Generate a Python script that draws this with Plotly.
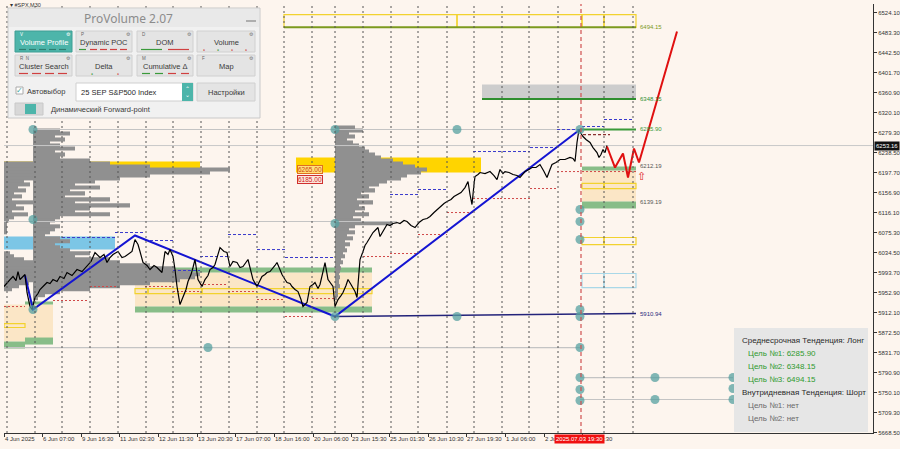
import plotly.graph_objects as go

BG = "#FDF5EE"
NARROW = "Liberation Sans, Arial"
SANS = "Liberation Sans, Arial"
UI = "Noto Sans, Open Sans, sans-serif"

# ---------------- axes ----------------
y_tick_vals = [6524.10, 6483.30, 6442.50, 6401.70, 6360.90, 6320.10, 6279.30, 6238.50,
               6197.70, 6156.90, 6116.10, 6075.30, 6034.50, 5993.70, 5952.90, 5912.10,
               5872.50, 5831.70, 5790.90, 5750.10, 5709.30, 5668.50]
x_tick_pos = [4, 42, 81, 119, 158, 197, 235, 274, 313, 351, 389, 428, 466, 505, 544, 582]
x_tick_text = ["4 Jun 2025", "6 Jun 07:00", "9 Jun 16:30", "11 Jun 02:30", "12 Jun 11:30",
               "13 Jun 20:30", "17 Jun 07:00", "18 Jun 16:00", "20 Jun 06:00", "23 Jun 15:30",
               "25 Jun 01:30", "26 Jun 10:30", "27 Jun 19:30", "1 Jul 06:00", "2 Jul 15:30",
               "3 Jul 01:30"]
session_sep = [7, 35, 62, 90, 118, 146, 173, 201, 229, 257, 284, 312, 335, 363, 391, 418,
               447, 474, 502, 529, 558, 604, 633]
current_bar = 581
current_time_label = "2025.07.03 19:30"

# ---------------- price (M30 close path) ----------------
price_x = [4, 7, 10, 13, 16, 18, 20, 22, 25, 27, 30, 32, 35, 38, 40, 44, 47, 50, 53, 57, 60, 64, 67,
           72, 77, 82, 87, 91, 95, 100, 104, 107, 110, 113, 118, 122, 125, 129, 132, 135, 138, 140,
           143, 147, 150, 154, 157, 160, 162, 165, 168, 170, 173, 175, 177, 180, 183, 186, 188, 191,
           193, 195, 198, 200, 202, 205, 208, 210, 213, 215, 218, 220, 224, 227, 230, 233, 237, 240,
           243, 246, 248, 251, 253, 257, 260, 262, 265, 267, 270, 272, 275, 277, 280, 282, 285, 287,
           290, 292, 295, 298, 301, 303, 307, 310, 313, 315, 318, 320, 323, 325, 328, 331, 333, 335,
           338, 341, 343, 346, 348, 351, 353, 355, 357, 360, 363, 365, 367, 370, 373, 376, 378, 380,
           383, 387, 390, 393, 397, 400, 404, 407, 411, 415, 419, 423, 427, 430, 434, 437, 441, 444,
           447, 451, 454, 457, 461, 465, 468, 470, 472, 474, 475, 478, 480, 485, 490, 494, 497, 500,
           503, 505, 509, 513, 517, 520, 523, 525, 529, 532, 536, 540, 544, 547, 550, 552, 556, 560,
           565, 570, 573, 575, 577, 579, 581, 583, 586, 590, 593, 597, 599, 601, 603, 605, 607]
price_y = [5966.0, 5974.1, 5980.2, 5986.4, 5978.2, 5996.5, 5980.2, 5984.3, 5990.4, 5953.8, 5925.2,
           5919.1, 5943.6, 5951.7, 5959.9, 5968.0, 5974.1, 5972.1, 5980.2, 5976.2, 5986.4, 5982.3,
           5994.5, 5988.4, 6000.6, 5996.5, 6006.7, 6016.9, 6035.2, 6025.1, 6031.2, 6014.9, 6025.1,
           6031.2, 6037.3, 6025.1, 6027.1, 6033.2, 6037.3, 6061.7, 6051.5, 6037.3, 6014.9, 6008.8,
           6000.6, 6008.8, 6004.7, 5998.6, 5994.5, 6037.3, 6031.2, 6041.3, 6027.1, 6000.6, 5966.0,
           5929.3, 5945.6, 5959.9, 5976.2, 5990.4, 6004.7, 6021.0, 5980.2, 5972.1, 5966.0, 5980.2,
           5988.4, 6000.6, 6004.7, 6010.8, 6029.1, 6045.4, 6037.3, 6035.2, 6006.7, 6016.9, 6014.9,
           6004.7, 6006.7, 6016.9, 6021.0, 5996.5, 5980.2, 5966.0, 5978.2, 5986.4, 5990.4, 5994.5,
           5996.5, 6000.6, 6008.8, 6014.9, 6000.6, 5990.4, 5980.2, 5974.1, 5972.1, 5966.0, 5959.9,
           5955.8, 5939.5, 5925.2, 5933.4, 5966.0, 5970.1, 5974.1, 5961.9, 5970.1, 5996.5, 6014.9,
           5980.2, 5970.1, 5966.0, 5925.2, 5939.5, 5947.6, 5953.8, 5968.0, 5980.2, 5970.1, 5963.9,
           5955.8, 5943.6, 6021.0, 6037.3, 6049.5, 6055.6, 6065.8, 6076.0, 6082.1, 6086.2, 6067.8,
           6078.0, 6092.3, 6090.2, 6094.3, 6096.3, 6094.3, 6100.4, 6098.4, 6090.2, 6086.2, 6096.3,
           6102.5, 6104.5, 6108.6, 6116.7, 6122.8, 6128.9, 6135.1, 6139.1, 6143.2, 6149.3, 6153.4,
           6157.5, 6167.6, 6179.9, 6153.4, 6133.0, 6173.8, 6190.1, 6194.1, 6198.2, 6196.2, 6200.2,
           6192.1, 6183.9, 6204.3, 6196.2, 6200.2, 6198.2, 6194.1, 6192.1, 6188.0, 6194.1, 6200.2,
           6204.3, 6208.4, 6208.4, 6214.5, 6200.2, 6188.0, 6204.3, 6214.5, 6218.6, 6224.7, 6224.7,
           6228.8, 6226.7, 6220.6, 6259.3, 6285.8, 6277.6, 6271.5, 6265.4, 6259.3, 6249.1, 6238.9,
           6228.8, 6234.9, 6245.0, 6238.9, 6253.2]
last_price = 6253.16

zigzag_x = [25, 33, 135, 335, 580]
zigzag_y = [5988.4, 5919.1, 6069.9, 5904.9, 6285.8]

forecast_x = [607, 615, 623, 628, 634, 639, 677]
forecast_y = [6251.2, 6208.4, 6236.9, 6188.0, 6247.1, 6218.6, 6485.4]

navy_x = [335, 580, 636]
navy_y = [5905.0, 5910.0, 5910.94]

# ---------------- volume profiles (bin grid + bar lengths) ----------------
bin_size = 6.1
profA_base, profA_top = 4, 6283.8
profA_len = [0, 0, 0, 0, 0, 0, 0, 0, 0, 0, 0, 29, 29, 29, 29, 29, 29, 20, 26, 14, 22, 10, 18, 8,
             29, 12, 20, 8, 24, 10, 5, 3, 3, 3, 3, 0, 0, 0, 0, 0, 0, 6, 10, 20, 29, 29, 29, 29, 29,
             29, 29, 25, 15, 8, 0, 0, 0]
profB_base, profB_top = 33, 6283.8
profB_len = [27, 37, 22, 32, 17, 27, 42, 22, 32, 27, 57, 77, 117, 197, 177, 117, 87, 62, 42, 67,
             37, 52, 32, 77, 42, 97, 57, 42, 77, 27, 22, 17, 27, 22, 17, 12, 27, 37, 22, 27, 37, 57,
             42, 77, 87, 117, 142, 157, 167, 162, 147, 117, 87, 57, 27, 12, 5]
profC_base, profC_top = 335, 6289.9
profC_len = [20, 28, 14, 20, 12, 18, 24, 30, 34, 40, 46, 58, 68, 80, 92, 86, 72, 66, 52, 44, 34,
             40, 26, 34, 22, 38, 24, 30, 20, 34, 18, 26, 58, 20, 14, 20, 12, 18, 10, 15, 10, 12, 8,
             10, 6, 8, 5, 6, 5, 4, 5, 4, 4, 5, 3, 3, 3, 2]

# ---------------- zones ----------------
zone_x0 = [4, 296, 4, 482, 135, 135, 135, 4, 25, 25, 4, 582, 582, 582]
zone_x1 = [200, 481, 115, 636, 372, 372, 372, 53, 53, 53, 25, 636, 636, 636]
zone_lo = [6204.3, 6198.2, 6041.3, 6346.9, 5925.2, 5994.5, 5913.0, 5853.9, 5929.3, 5847.8, 5839.7,
           6139.1, 6202.3, 6124.8]
zone_hi = [6220.6, 6228.8, 6067.8, 6377.5, 5994.5, 6004.7, 5925.2, 5929.3, 5935.5, 5862.1, 5853.9,
           6202.3, 6210.4, 6139.1]
zone_kind = ["gold", "gold", "sky", "grey", "beige", "green", "green", "beige", "green", "green",
             "green", "beige", "green", "green"]

box_x0 = [284, 457, 582, 604, 135, 148, 202, 4, 582, 604, 582, 604, 582, 604]
box_x1 = [457, 582, 604, 636, 148, 202, 372, 25, 604, 636, 604, 636, 604, 636]
box_lo = [6493.6, 6493.6, 6493.6, 6493.6, 5951.7, 5951.7, 5951.7, 5882.5, 6165.6, 6165.6, 6051.5,
          6051.5, 5963.9, 5963.9]
box_hi = [6520.0, 6520.0, 6520.0, 6520.0, 5961.9, 5961.9, 5961.9, 5890.6, 6176.0, 6176.0, 6065.8,
          6065.8, 5992.5, 5992.5]
box_kind = ["yellow"] * 12 + ["lightblue"] * 2

ZCOL = {"gold": "#FFD400", "sky": "#7CC6E6", "grey": "#CDCDCD", "beige": "#FBE6C6",
        "green": "#88BD88", "yellow": "#F2D22E", "lightblue": "#A9D8E8"}

# target levels
lvl_x0 = [284, 482, 580]
lvl_x1 = [636, 636, 636]
lvl_p = [6494.15, 6348.15, 6285.90]
lvl_col = ["#7C9A1E", "#2F8F2F", "#3A9A3A"]

lab_p = [6494.15, 6348.15, 6285.90, 6212.19, 6139.19, 5910.94]
lab_txt = ["6494.15", "6348.15", "6285.90", "6212.19", "6139.19", "5910.94"]
lab_col = ["#7C9A1E", "#2F8F2F", "#3A9A3A", "#555555", "#555555", "#2B2B80"]

# thin grey reference lines
gl_x0 = [33, 4, 4, 580, 580]
gl_x1 = [580, 397, 580, 733, 733]
gl_p = [6285.8, 6098.4, 5841.7, 5780.6, 5735.8]

# dashed session levels
blue_x0 = [62, 115, 145, 173, 200, 228, 257, 285, 390, 418, 473, 530, 557, 582, 604]
blue_x1 = [115, 145, 173, 200, 228, 257, 285, 335, 418, 447, 530, 557, 580, 604, 632]
blue_p = [6065.8, 6076.0, 6059.7, 5998.6, 6027.1, 6071.9, 6041.3, 6025.1, 6153.4, 6163.6, 6241.0,
          6249.1, 6285.8, 6291.9, 6306.2]
red_x0 = [4, 53, 90, 145, 173, 200, 228, 257, 285, 312, 363, 390, 418, 447, 473, 500, 530, 557, 582]
red_x1 = [25, 88, 117, 173, 200, 228, 257, 285, 312, 335, 390, 418, 447, 473, 500, 530, 557, 580, 636]
red_p = [5925.2, 5937.5, 5966.0, 5966.0, 5955.8, 5970.1, 5955.8, 5939.5, 5904.9, 5941.5, 6027.1,
         6033.2, 6071.9, 6116.7, 6145.2, 6145.2, 6165.6, 6200.2, 6200.2]

# pivot dots
dot_x = [33, 33, 33, 335, 457, 335, 335, 457, 580, 580, 580, 580, 580, 580, 580, 580, 580, 580,
         208, 655, 655, 733, 733, 733]
dot_y = [6285.8, 6102.5, 5919.1, 6285.8, 6285.8, 6094.3, 5904.9, 5904.9, 6285.8, 6122.8, 6098.4,
         6061.7, 5919.1, 5904.9, 5841.7, 5780.6, 5756.2, 5733.7, 5841.7, 5780.6, 5735.8, 5780.6,
         5758.2, 5735.8]

info_lines = ["Среднесрочная Тенденция: Лонг", "Цель №1: 6285.90", "Цель №2: 6348.15",
              "Цель №3: 6494.15", "Внутридневная Тенденция: Шорт", "Цель №1: нет", "Цель №2: нет"]

# ======================================================================
fig = go.Figure()
shapes, ann = [], []

def seg_xy(x0s, x1s, ps):
    xs, ys = [], []
    for a, b, p in zip(x0s, x1s, ps):
        xs += [a, b, None]
        ys += [p, p, None]
    return xs, ys

# zones (below traces)
for a, b, lo, hi, k in zip(zone_x0, zone_x1, zone_lo, zone_hi, zone_kind):
    shapes.append(dict(type="rect", xref="x", yref="y", x0=a, x1=b, y0=lo, y1=hi,
                       fillcolor=ZCOL[k], line=dict(width=0), layer="below"))
for a, b, lo, hi, k in zip(box_x0, box_x1, box_lo, box_hi, box_kind):
    shapes.append(dict(type="rect", xref="x", yref="y", x0=a, x1=b, y0=lo, y1=hi,
                       fillcolor="rgba(0,0,0,0)", line=dict(width=1.2, color=ZCOL[k]), layer="below"))

# volume profiles
for base, top, lens in [(profA_base, profA_top, profA_len), (profB_base, profB_top, profB_len),
                        (profC_base, profC_top, profC_len)]:
    levels = [top - i * bin_size for i in range(len(lens))]
    fig.add_trace(go.Bar(orientation="h", y=levels, x=lens, base=base, width=bin_size * 1.35,
                         marker=dict(color="#909090", line=dict(width=0)), hoverinfo="skip"))

# grey reference lines
gx, gy = seg_xy(gl_x0, gl_x1, gl_p)
fig.add_trace(go.Scatter(x=gx, y=gy, mode="lines", line=dict(color="#C4C4C4", width=1.2)))
fig.add_trace(go.Scatter(x=[4, 873], y=[last_price, last_price], mode="lines",
                         line=dict(color="#C8C8C8", width=1)))

# dashed levels
bx, by = seg_xy(blue_x0, blue_x1, blue_p)
fig.add_trace(go.Scatter(x=bx, y=by, mode="lines", line=dict(color="#3A3ACC", width=1, dash="3px,2px")))
rx, ry = seg_xy(red_x0, red_x1, red_p)
fig.add_trace(go.Scatter(x=rx, y=ry, mode="lines", line=dict(color="#D04848", width=1, dash="2px,2px")))
fig.add_trace(go.Scatter(x=[583, 610], y=[6275.6, 6275.6], mode="lines",
                         line=dict(color="#8B3030", width=1.2, dash="3px,2px")))

# target level lines
for a, b, p, c in zip(lvl_x0, lvl_x1, lvl_p, lvl_col):
    fig.add_trace(go.Scatter(x=[a, b], y=[p, p], mode="lines", line=dict(color=c, width=2)))
fig.add_trace(go.Scatter(x=navy_x, y=navy_y, mode="lines", line=dict(color="#23237A", width=1.6)))

# zigzag
fig.add_trace(go.Scatter(x=zigzag_x, y=zigzag_y, mode="lines", line=dict(color="#1414D2", width=2)))

# price
fig.add_trace(go.Scatter(x=price_x, y=price_y, mode="lines", line=dict(color="#000000", width=1.2)))

# forecast
fig.add_trace(go.Scatter(x=forecast_x, y=forecast_y, mode="lines", line=dict(color="#E01010", width=2)))

# dots
fig.add_trace(go.Scatter(x=dot_x, y=dot_y, mode="markers",
                         marker=dict(size=9, color="rgba(86,160,160,0.75)", line=dict(width=0))))

# level labels
for p, t, c in zip(lab_p, lab_txt, lab_col):
    ann.append(dict(x=638, y=p, xref="x", yref="y", text=t, showarrow=False, xanchor="left",
                    yanchor="middle", font=dict(family=NARROW, size=6, color=c)))

# POC labels on mid band
ann.append(dict(x=297, y=6204.3, xref="x", yref="y", text="6265.00", showarrow=False, xanchor="left",
                yanchor="middle", font=dict(family=NARROW, size=6.5, color="#D04010"),
                bordercolor="#E07020", borderwidth=1, borderpad=0, bgcolor="#FFE27A"))
ann.append(dict(x=297, y=6183.9, xref="x", yref="y", text="6185.00", showarrow=False, xanchor="left",
                yanchor="middle", font=dict(family=NARROW, size=6.5, color="#D02020"),
                bordercolor="#D03030", borderwidth=1, borderpad=0, bgcolor="#FCE8DC"))
ann.append(dict(x=641, y=6192, xref="x", yref="y", text="⇧", showarrow=False,
                font=dict(size=11, color="#E02020")))

# session separators (dotted) and current bar
for s in session_sep:
    shapes.append(dict(type="line", xref="x", yref="paper", x0=s, x1=s, y0=0, y1=1,
                       line=dict(color="#555555", width=1, dash="2px,3px"), layer="above"))
shapes.append(dict(type="line", xref="x", yref="paper", x0=current_bar, x1=current_bar, y0=0, y1=1,
                   line=dict(color="#D05050", width=1.2, dash="4px,3px"), layer="above"))

# ---------------- pixel helpers for overlays ----------------
def PX(xp):
    return (xp - 4) / 869.0

def PY(yp):
    return (433 - yp) / 429.0

def rect(x0, y0, x1, y1, fill, line=None, lw=1):
    shapes.append(dict(type="rect", xref="paper", yref="paper", x0=PX(x0), x1=PX(x1),
                       y0=PY(y1), y1=PY(y0), fillcolor=fill,
                       line=dict(color=line or fill, width=lw if line else 0), layer="above"))

def hline(x0, x1, y, color, w=1.5):
    shapes.append(dict(type="line", xref="paper", yref="paper", x0=PX(x0), x1=PX(x1),
                       y0=PY(y), y1=PY(y), line=dict(color=color, width=w), layer="above"))

def text(xp, yp, s, size, color, anchor="center", family=UI, bg=None):
    d = dict(xref="paper", yref="paper", x=PX(xp), y=PY(yp), text=s, showarrow=False,
             xanchor=anchor, yanchor="middle", font=dict(size=size, color=color, family=family))
    if bg:
        d.update(bgcolor=bg, borderpad=1)
    ann.append(d)

# chart symbol label
text(8, 5, "▾ #SPX,M30", 5.5, "#333", "left", NARROW)

# ---------------- ProVolume panel ----------------
rect(8, 8, 260, 118, "#F1F1F1", "#C9C9C9", 1)
rect(9, 9, 259, 27, "#E9E9E9")
text(128, 18, "ProVolume 2.07", 12, "#8C8C8C")
hline(246, 256, 21, "#9A9A9A", 1.5)

btn_cols = [(15, 72), (76, 132), (137, 193), (197, 255)]
row1 = ["Volume Profile", "Dynamic POC", "DOM", "Volume"]
row2 = ["Cluster Search", "Delta", "Cumulative Δ", "Map"]
keys1 = ["V", "P", "D", ""]
keys2 = ["R  N", "", "M", "F"]
for (a, b), t, k in zip(btn_cols, row1, keys1):
    teal = t == "Volume Profile"
    rect(a, 31, b, 52, "#4DB5AA" if teal else "#E4E4E4", "#3E9E94" if teal else "#D0D0D0", 1)
    text((a + b) / 2, 42, t, 7.5, "#FFFFFF" if teal else "#3A3A3A", "center", SANS)
    text(a + 3, 34.5, k, 4.5, "#FFFFFF" if teal else "#666", "left", SANS)
    text(b - 4, 34.5, "⚙", 5, "#FFFFFF" if teal else "#777")
for (a, b), t, k in zip(btn_cols, row2, keys2):
    rect(a, 55, b, 76, "#E4E4E4", "#D0D0D0", 1)
    text((a + b) / 2, 66, t, 7.5, "#3A3A3A", "center", SANS)
    text(a + 3, 58.5, k, 4.5, "#666", "left", SANS)
    text(b - 4, 58.5, "⚙", 5, "#777")

# indicator dashes under button labels
for i in range(5):
    hline(19 + i * 10, 26 + i * 10, 49.5, "#2E7D6F", 1.2)
hline(79, 86, 49.5, "#3A9A3A", 1.2)
for i in range(4):
    hline(90 + i * 10, 97 + i * 10, 49.5, "#D04040", 1.2)
hline(141, 162, 49.5, "#3A9A3A", 1.2)
hline(168, 189, 49.5, "#D04040", 1.2)
for i, c in enumerate(["#D04040", "#3A9A3A", "#D04040", "#D04040"]):
    text(204 + i * 14, 49.5, "●", 3.5, c)
for i in range(4):
    hline(19 + i * 13, 28 + i * 13, 73.5, "#D04040", 1.2)
text(92, 73.5, "●", 3.5, "#3A9A3A")
text(118, 73.5, "●", 3.5, "#D04040")
for i, c in enumerate(["#3A9A3A", "#3A9A3A", "#D04040", "#D04040"]):
    hline(142 + i * 13, 150 + i * 13, 73.5, c, 1.2)

# checkbox row
rect(16, 87, 23, 94, "#FFFFFF", "#AAAAAA", 1)
text(19.5, 89.5, "✓", 8, "#3AA89C")
text(25, 91, "Автовыбор", 7.5, "#3A3A3A", "left", SANS)
rect(76, 83, 193, 101, "#FFFFFF", "#CFCFCF", 1)
text(79, 92, "25 SEP S&P500 Index", 7.5, "#2A2A2A", "left", SANS)
rect(182, 83, 193, 101, "#4DB5AA")
text(187.5, 89, "⌃", 6, "#FFFFFF")
text(187.5, 95, "⌄", 6, "#FFFFFF")
rect(197, 83, 255, 101, "#E4E4E4", "#D0D0D0", 1)
text(226, 92, "Настройки", 7.5, "#3A3A3A", "center", SANS)
# toggle
rect(15, 103, 43, 115, "#D8D8D8", "#C8C8C8", 1)
rect(25, 104, 36, 114, "#4DB5AA")
text(49, 109, "Динамический Forward-point", 7.5, "#3A3A3A", "left", SANS)

# ---------------- info box ----------------
rect(734, 328, 868, 432, "#E6E6E6")
info_y = [340, 353, 366, 379, 392, 405, 418]
info_x = [740, 746, 746, 746, 740, 746, 746]
info_c = ["#2A2A2A", "#2E9A2E", "#2E9A2E", "#2E9A2E", "#2A2A2A", "#6A6A6A", "#6A6A6A"]
for t, yy, xx, c in zip(info_lines, info_y, info_x, info_c):
    text(xx, yy, t, 8, c, "left", SANS)

# axis badges
text(874, 146, f"{last_price:.2f}", 6, "#FFFFFF", "left", NARROW, bg="#111111")
text(579, 438.5, current_time_label, 6, "#FFFFFF", "center", NARROW, bg="#F01010")

fig.update_layout(
    width=900, height=449, margin=dict(l=4, r=27, t=4, b=16, autoexpand=False),
    paper_bgcolor=BG, plot_bgcolor=BG, showlegend=False, barmode="overlay", hovermode=False,
    shapes=shapes, annotations=ann,
    xaxis=dict(range=[4, 873], tickvals=x_tick_pos, ticktext=x_tick_text, ticks="outside",
               ticklen=3, tickcolor="#333", showgrid=False, zeroline=False, showline=True,
               linecolor="#333", linewidth=1, ticklabelposition="outside right", tickangle=0,
               automargin=False, tickfont=dict(family=NARROW, size=6, color="#333")),
    yaxis=dict(range=[5667.6, 6541.5], side="right", tickvals=y_tick_vals,
               ticktext=[f"{v:.2f}" for v in y_tick_vals], ticks="outside", ticklen=3,
               tickcolor="#333", showgrid=False, zeroline=False, showline=True, linecolor="#333",
               linewidth=1, automargin=False, tickfont=dict(family=NARROW, size=6, color="#333")),
)
fig.write_html("out.html", config=dict(displayModeBar=False),
               post_script="document.body.style.margin='0';document.body.style.overflow='hidden';"
                           "document.body.style.background='" + BG + "';")
